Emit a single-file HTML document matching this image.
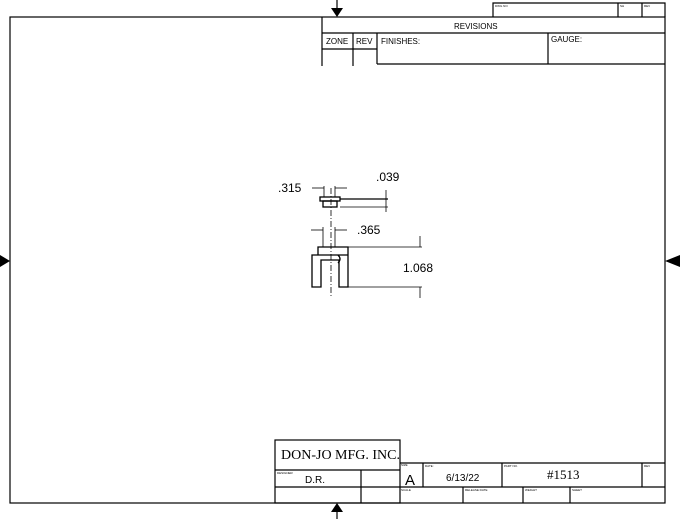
<!DOCTYPE html>
<html><head><style>
html,body{margin:0;padding:0;background:#fff;}
svg{display:block;}
text{font-family:"Liberation Sans",sans-serif;fill:#000;}
</style></head><body>
<svg width="680" height="519" viewBox="0 0 680 519" xmlns="http://www.w3.org/2000/svg">
<g stroke="#000" stroke-width="1.2" fill="none">
<rect x="10" y="17" width="655" height="486"/>
<!-- top dwg no box -->
<polyline points="493,17 493,3 665,3 665,17"/>
<line x1="618" y1="3" x2="618" y2="17"/>
<line x1="642" y1="3" x2="642" y2="17"/>
<!-- revisions -->
<line x1="322" y1="17" x2="322" y2="66"/>
<line x1="322" y1="33" x2="665" y2="33"/>
<line x1="322" y1="49" x2="377" y2="49"/>
<line x1="353" y1="33" x2="353" y2="66"/>
<line x1="377" y1="33" x2="377" y2="64"/>
<line x1="548" y1="33" x2="548" y2="64"/>
<line x1="377" y1="64" x2="665" y2="64"/>
<!-- title block -->
<rect x="275" y="440" width="125" height="63"/>
<line x1="275" y1="470" x2="400" y2="470"/>
<line x1="275" y1="487" x2="665" y2="487"/>
<line x1="361" y1="470" x2="361" y2="503"/>
<line x1="400" y1="463" x2="665" y2="463"/>
<line x1="423" y1="463" x2="423" y2="487"/>
<line x1="502" y1="463" x2="502" y2="487"/>
<line x1="642" y1="463" x2="642" y2="487"/>
<line x1="463" y1="487" x2="463" y2="503"/>
<line x1="523" y1="487" x2="523" y2="503"/>
<line x1="570" y1="487" x2="570" y2="503"/>
<!-- arrows stems -->
<line x1="337" y1="0" x2="337" y2="10"/>
<line x1="337" y1="510" x2="337" y2="519"/>
</g>
<g fill="#000">
<polygon points="331,8 343,8 337,17"/>
<polygon points="331,512 343,512 337,503"/>
<polygon points="0,255 0,267 10,261"/>
<polygon points="680,255 680,267 665,261"/>
</g>
<!-- drawing -->
<g stroke="#000" stroke-width="1.3" fill="none">
<rect x="320" y="197" width="20" height="4"/>
<rect x="323" y="201" width="14" height="6"/>
<line x1="340" y1="199" x2="388" y2="199"/>
<polyline points="318,255 318,247 348,247 348,287 339,287 339,260 321,260 321,287 312,287 312,255 348,255"/>
<path d="M338,255 q4,4 0,8" />
</g>
<g stroke="#000" stroke-width="0.8" fill="none">
<line x1="331" y1="188" x2="331" y2="298" stroke-dasharray="6,2,1,2"/>
<line x1="324" y1="186" x2="324" y2="197"/>
<line x1="335" y1="186" x2="335" y2="197"/>
<line x1="312" y1="188" x2="324" y2="188"/>
<line x1="335" y1="188" x2="347" y2="188"/>
<line x1="386" y1="190" x2="386" y2="212"/>
<line x1="340" y1="207" x2="388" y2="207"/>
<line x1="323" y1="227" x2="323" y2="247"/>
<line x1="335" y1="227" x2="335" y2="247"/>
<line x1="311" y1="230" x2="323" y2="230"/>
<line x1="335" y1="230" x2="347" y2="230"/>
<line x1="348" y1="247" x2="422" y2="247"/>
<line x1="348" y1="287" x2="422" y2="287"/>
<line x1="420" y1="236" x2="420" y2="247"/>
<line x1="420" y1="287" x2="420" y2="298"/>
</g>
<g fill="#000" font-size="12">
<text x="278" y="192">.315</text>
<text x="376" y="181">.039</text>
<text x="357" y="234">.365</text>
<text x="403" y="272">1.068</text>
</g>
<g font-size="7">
<text x="454" y="29" font-size="8">REVISIONS</text>
<text x="326" y="44" font-size="8">ZONE</text>
<text x="356" y="44" font-size="8">REV</text>
<text x="381" y="44" font-size="8">FINISHES:</text>
<text x="551" y="42" font-size="8">GAUGE:</text>
<text x="495" y="7" font-size="3">DWG NO</text>
<text x="620" y="7" font-size="3">SH</text>
<text x="644" y="7" font-size="3">REV</text>
<text x="281" y="459" font-size="14" style="font-family:'Liberation Serif',serif">DON-JO MFG. INC.</text>
<text x="305" y="483" font-size="10">D.R.</text>
<text x="405" y="485" font-size="15">A</text>
<text x="446" y="481" font-size="10">6/13/22</text>
<text x="547" y="479" font-size="13" style="font-family:'Liberation Serif',serif">#1513</text>
<text x="277" y="474" font-size="3">DESIGNER</text>
<text x="401" y="466" font-size="3">SIZE</text>
<text x="425" y="467" font-size="3">DATE:</text>
<text x="504" y="467" font-size="3">PART NO.</text>
<text x="644" y="467" font-size="3">REV</text>
<text x="401" y="491" font-size="3">SCALE</text>
<text x="465" y="491" font-size="3">RELEASE DATE</text>
<text x="525" y="491" font-size="3">WEIGHT</text>
<text x="572" y="491" font-size="3">SHEET</text>
</g>
</svg>
</body></html>
